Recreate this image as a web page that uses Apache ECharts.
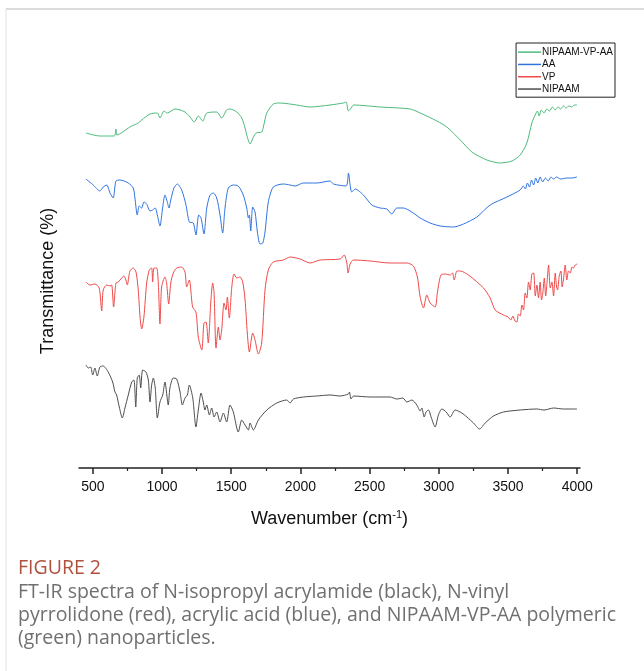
<!DOCTYPE html>
<html>
<head>
<meta charset="utf-8">
<script src="https://cdn.jsdelivr.net/npm/echarts@6/dist/echarts.min.js"></script>
<style>
  html, body { margin: 0; padding: 0; background: #fff; }
  #main { width: 644px; height: 671px; }
</style>
</head>
<body>
<div id="main"></div>
<script>
var chartDom = document.getElementById('main');
var myChart = echarts.init(chartDom);
var option;

// x axis ticks (cm-1)
var majorTicks = [500, 1000, 1500, 2000, 2500, 3000, 3500, 4000];
var minorTicks = [750, 1250, 1750, 2250, 2750, 3250, 3750];

// [wavenumber, transmittance (offset, a.u.)]
var nipaamVpAa = [
    [450, 335], [551, 332], [655, 332], [667, 339], [674, 333], [768, 341], [828, 345], [853, 348],
    [913, 354], [966, 355], [985, 350], [1014, 357], [1038, 355], [1094, 359], [1130, 358], [1166, 356],
    [1202, 351], [1233, 346], [1262, 352], [1294, 347], [1323, 355], [1395, 356], [1431, 350], [1467, 358],
    [1491, 359], [1540, 356], [1576, 350], [1600, 340], [1616, 331], [1636, 324], [1660, 331], [1679, 335],
    [1720, 336], [1732, 341], [1757, 355], [1804, 364], [1853, 365], [1973, 363], [2070, 361], [2214, 363],
    [2310, 365], [2330, 366], [2347, 357], [2371, 361], [2383, 363], [2576, 361], [2793, 359], [2865, 355],
    [2986, 347], [3058, 341], [3155, 328], [3239, 316], [3347, 308], [3443, 305], [3528, 307], [3588, 313],
    [3636, 325], [3672, 345], [3696, 353], [3712, 357], [3725, 352], [3740, 358], [3760, 355], [3780, 359],
    [3800, 357], [3820, 361], [3840, 358], [3860, 361], [3880, 359], [3901, 362], [3920, 360], [3940, 362],
    [3960, 361], [3980, 363], [3998, 363]
];

var aa = [
    [450, 289], [503, 283], [551, 277], [575, 281], [600, 283], [624, 275], [647, 270], [667, 287],
    [696, 288], [756, 285], [792, 280], [804, 270], [821, 253], [835, 262], [853, 260], [869, 266],
    [889, 264], [913, 257], [932, 258], [951, 260], [966, 253], [985, 242], [1004, 260], [1021, 273],
    [1038, 266], [1050, 260], [1063, 268], [1086, 280], [1110, 284], [1142, 278], [1173, 263], [1197, 246],
    [1226, 245], [1245, 233], [1265, 253], [1282, 250], [1303, 234], [1323, 260], [1347, 273], [1371, 275],
    [1395, 270], [1419, 253], [1438, 235], [1455, 260], [1479, 280], [1515, 283], [1551, 282], [1587, 273],
    [1612, 260], [1624, 250], [1631, 253], [1641, 237], [1655, 261], [1672, 256], [1689, 236], [1708, 224],
    [1728, 225], [1744, 236], [1768, 266], [1804, 281], [1877, 284], [1925, 283], [1961, 282], [2021, 285],
    [2118, 285], [2214, 287], [2238, 284], [2330, 282], [2347, 295], [2359, 283], [2371, 276], [2395, 279],
    [2455, 273], [2516, 263], [2576, 260], [2624, 259], [2660, 254], [2696, 260], [2744, 260], [2805, 256],
    [2865, 250], [2937, 245], [3010, 242], [3106, 241], [3178, 244], [3275, 251], [3371, 263], [3492, 271],
    [3588, 278], [3610, 282], [3625, 279], [3640, 285], [3655, 281], [3670, 288], [3685, 283], [3700, 290],
    [3715, 285], [3732, 291], [3750, 286], [3770, 290], [3790, 287], [3810, 291], [3829, 289], [3850, 291],
    [3880, 289], [3926, 290], [3960, 290], [3998, 291]
];

var vp = [
    [450, 186], [479, 183], [515, 184], [546, 180], [564, 157], [575, 178], [600, 183], [624, 182],
    [636, 183], [650, 161], [667, 185], [684, 186], [708, 190], [725, 192], [739, 188], [749, 183],
    [768, 197], [792, 200], [812, 196], [828, 178], [841, 151], [853, 139], [869, 151], [889, 185],
    [908, 198], [925, 200], [932, 186], [942, 200], [961, 200], [973, 185], [985, 144], [997, 181],
    [1021, 191], [1033, 185], [1048, 164], [1063, 185], [1081, 195], [1106, 200], [1142, 201], [1166, 196],
    [1178, 181], [1197, 188], [1221, 161], [1245, 156], [1262, 131], [1287, 118], [1303, 145], [1318, 146],
    [1334, 125], [1352, 165], [1366, 185], [1376, 175], [1390, 120], [1407, 141], [1419, 128], [1431, 138],
    [1448, 165], [1462, 158], [1472, 171], [1486, 150], [1504, 181], [1520, 194], [1540, 190], [1564, 191],
    [1583, 186], [1600, 168], [1616, 135], [1631, 116], [1655, 135], [1672, 128], [1696, 114], [1720, 125],
    [1744, 178], [1768, 198], [1804, 206], [1877, 208], [1925, 211], [1997, 209], [2070, 205], [2142, 208],
    [2287, 209], [2316, 213], [2335, 205], [2344, 195], [2359, 204], [2383, 208], [2504, 207], [2648, 205],
    [2769, 205], [2816, 202], [2845, 191], [2865, 171], [2889, 160], [2913, 173], [2937, 165], [2973, 161],
    [2990, 176], [3015, 193], [3046, 194], [3082, 193], [3099, 195], [3111, 188], [3131, 197], [3155, 197],
    [3214, 193], [3323, 180], [3371, 170], [3407, 158], [3467, 153], [3500, 151], [3520, 148], [3535, 152],
    [3550, 147], [3564, 146], [3575, 154], [3588, 152], [3600, 163], [3612, 158], [3624, 175], [3636, 170],
    [3648, 186], [3660, 178], [3672, 194], [3685, 195], [3697, 172], [3709, 183], [3720, 170], [3732, 186],
    [3742, 168], [3752, 176], [3762, 190], [3772, 172], [3782, 186], [3793, 203], [3805, 180], [3817, 186],
    [3829, 172], [3841, 195], [3850, 182], [3858, 178], [3870, 192], [3882, 197], [3891, 181], [3901, 189],
    [3913, 203], [3925, 188], [3937, 197], [3950, 195], [3962, 201], [3973, 200], [3986, 203], [4000, 204]
];

var nipaam = [
    [450, 103], [467, 100], [484, 101], [499, 93], [515, 100], [532, 92], [551, 101], [575, 102],
    [611, 96], [643, 86], [660, 76], [672, 73], [691, 61], [713, 50], [732, 60], [756, 73],
    [781, 86], [797, 88], [810, 61], [821, 90], [835, 93], [846, 80], [860, 98], [884, 96],
    [901, 88], [913, 66], [925, 83], [937, 90], [951, 80], [966, 50], [985, 66], [1005, 73],
    [1021, 86], [1045, 63], [1057, 80], [1081, 90], [1106, 89], [1130, 76], [1147, 63], [1166, 70],
    [1183, 73], [1197, 83], [1222, 70], [1245, 41], [1262, 58], [1282, 75], [1298, 66], [1310, 58],
    [1323, 63], [1342, 53], [1359, 60], [1376, 51], [1395, 56], [1419, 46], [1443, 55], [1467, 46],
    [1491, 63], [1515, 56], [1551, 36], [1576, 48], [1600, 43], [1624, 38], [1636, 45], [1660, 38],
    [1696, 48], [1757, 58], [1829, 65], [1901, 68], [1925, 65], [1949, 69], [2021, 71], [2118, 72],
    [2214, 73], [2287, 72], [2347, 74], [2354, 76], [2366, 69], [2383, 72], [2504, 71], [2648, 71],
    [2697, 69], [2740, 70], [2769, 66], [2805, 68], [2841, 63], [2865, 57], [2877, 60], [2894, 51],
    [2908, 56], [2925, 58], [2944, 51], [2973, 41], [2997, 53], [3022, 59], [3053, 56], [3082, 51],
    [3118, 58], [3166, 55], [3203, 51], [3250, 45], [3294, 39], [3335, 45], [3395, 52], [3467, 56],
    [3588, 58], [3709, 59], [3760, 58], [3829, 60], [3900, 59], [3998, 59]
];

var captionLines = [
    'FT-IR spectra of N-isopropyl acrylamide (black), N-vinyl',
    'pyrrolidone (red), acrylic acid (blue), and NIPAAM-VP-AA polymeric',
    '(green) nanoparticles.'
];

var font = '"Liberation Sans", Arial, sans-serif';

function spectrum(name, data, color) {
    return {
        name: name,
        type: 'line',
        data: data,
        showSymbol: false,
        symbol: 'none',
        smooth: 0.25,
        lineStyle: { color: color, width: 1 },
        itemStyle: { color: color },
        silent: true,
        animation: false
    };
}

var graphics = [
    { type: 'line', shape: { x1: 6, y1: 9, x2: 644, y2: 9 }, style: { stroke: '#cfcfcf', lineWidth: 1.5 } },
    { type: 'line', shape: { x1: 6, y1: 9, x2: 6, y2: 671 }, style: { stroke: '#e2e2e2', lineWidth: 1 } },
    {
        type: 'text', left: 18, top: 558,
        style: { text: 'FIGURE 2', fill: '#b0503f', font: '19.5px "Open Sans", sans-serif' }
    }
];
captionLines.forEach(function (line, i) {
    graphics.push({
        type: 'text', left: 18, top: 582 + i * 23,
        style: { text: line, fill: '#707070', font: '19.5px "Open Sans", sans-serif' }
    });
});

option = {
    backgroundColor: '#fff',
    animation: false,
    grid: { left: 79, right: 64, top: 94, bottom: 203, outerBoundsMode: 'none' },
    legend: {
        orient: 'vertical',
        right: 29,
        top: 43,
        align: 'left',
        icon: 'rect',
        itemWidth: 23,
        itemHeight: 1.5,
        itemGap: 0,
        padding: [3, 2, 2, 2],
        borderColor: '#222',
        borderWidth: 1,
        textStyle: { fontFamily: font, fontSize: 10, color: '#111', padding: [0, 0, 0, -4], lineHeight: 12.3 },
        data: ['NIPAAM-VP-AA', 'AA', 'VP', 'NIPAAM']
    },
    xAxis: [{
        type: 'value',
        min: 400,
        max: 4020,
        name: '{t|Wavenumber (cm}{s|-1}{t|)}',
        nameLocation: 'middle',
        nameGap: 41,
        nameTextStyle: {
            rich: {
                t: { fontFamily: font, fontSize: 18, color: '#111' },
                s: { fontFamily: font, fontSize: 11, color: '#111', padding: [0, 0, 9, 0] }
            }
        },
        axisLine: { lineStyle: { color: '#222', width: 1.5 } },
        axisTick: { customValues: majorTicks, length: 6, lineStyle: { color: '#222', width: 1.5 } },
        axisLabel: {
            customValues: majorTicks,
            formatter: function (v) { return String(v); },
            fontFamily: font, fontSize: 14, color: '#111', margin: 12
        },
        splitLine: { show: false }
    }, {
        type: 'value',
        min: 400,
        max: 4020,
        position: 'bottom',
        axisLine: { show: false },
        axisTick: { customValues: minorTicks, length: 3, lineStyle: { color: '#222', width: 1.2 } },
        axisLabel: { show: false },
        splitLine: { show: false }
    }],
    yAxis: {
        type: 'value',
        min: 0,
        max: 374,
        name: 'Transmittance (%)',
        nameLocation: 'middle',
        nameGap: 22,
        nameTextStyle: { fontFamily: font, fontSize: 18, color: '#111' },
        axisLine: { show: false },
        axisTick: { show: false },
        axisLabel: { show: false },
        splitLine: { show: false }
    },
    series: [
        spectrum('NIPAAM', nipaam, '#4d4d4d'),
        spectrum('VP', vp, '#f04a4a'),
        spectrum('AA', aa, '#2f74e0'),
        spectrum('NIPAAM-VP-AA', nipaamVpAa, '#4cbb7c')
    ],
    graphic: graphics
};

option && myChart.setOption(option);
</script>
</body>
</html>
